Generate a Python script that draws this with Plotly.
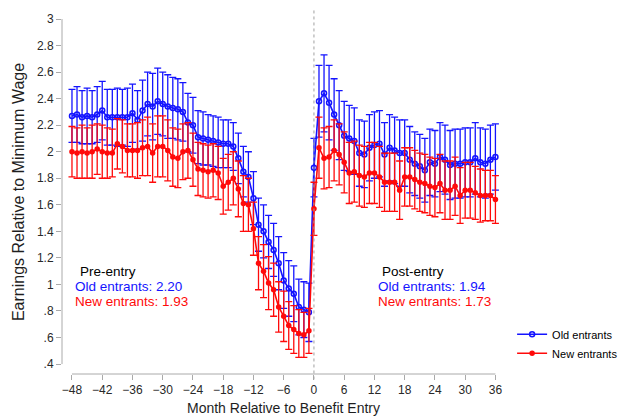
import plotly.graph_objects as go

months = list(range(-48, 37))

old_pre = [2.27, 2.28, 2.26, 2.27, 2.26, 2.28, 2.31, 2.26, 2.26, 2.26, 2.26, 2.26,
           2.29, 2.24, 2.31, 2.36, 2.34, 2.38, 2.36, 2.34, 2.33, 2.32, 2.30, 2.22,
           2.20, 2.11, 2.10, 2.09, 2.08, 2.07, 2.06, 2.06, 2.04, 1.95, 1.85, 1.81,
           1.65, 1.45, 1.40, 1.32, 1.26, 1.16, 1.03, 0.97, 0.93, 0.83, 0.81, 0.79]
old_post = [1.88, 2.38, 2.44, 2.37, 2.28, 2.20, 2.12, 2.10, 2.08, 1.99, 1.98, 2.03,
            2.05, 2.06, 1.98, 2.03, 2.01, 1.99, 1.99, 1.94, 1.91, 1.89, 1.86, 1.92,
            1.91, 1.96, 1.94, 1.90, 1.91, 1.91, 1.92, 1.92, 1.95, 1.92, 1.91, 1.94, 1.96]
new_pre = [2.00, 1.99, 2.00, 1.99, 2.00, 2.02, 2.00, 1.99, 1.99, 2.06, 2.04, 2.01,
           2.01, 2.01, 2.03, 2.04, 1.99, 2.04, 2.04, 2.01, 1.96, 1.95, 2.00, 2.01,
           1.94, 1.87, 1.86, 1.85, 1.86, 1.84, 1.74, 1.77, 1.80, 1.72, 1.61, 1.60,
           1.42, 1.16, 1.10, 1.01, 0.96, 0.83, 0.76, 0.69, 0.66, 0.63, 0.62, 0.65]
new_post = [1.57, 2.03, 1.95, 1.96, 2.01, 1.98, 1.92, 1.84, 1.85, 1.82, 1.81, 1.84,
            1.84, 1.81, 1.77, 1.77, 1.77, 1.71, 1.81, 1.81, 1.79, 1.77, 1.76, 1.74,
            1.73, 1.76, 1.71, 1.71, 1.74, 1.67, 1.71, 1.71, 1.69, 1.67, 1.67, 1.67, 1.64]

old_err = [0.20, 0.21, 0.20, 0.21, 0.20, 0.21, 0.22, 0.21, 0.21, 0.22, 0.21, 0.22,
           0.22, 0.22, 0.23, 0.24, 0.25, 0.25, 0.24, 0.24, 0.23, 0.23, 0.22, 0.22,
           0.21, 0.20, 0.20, 0.19, 0.19, 0.19, 0.18, 0.18, 0.18, 0.19, 0.19, 0.19,
           0.20, 0.20, 0.20, 0.20, 0.20, 0.20, 0.21, 0.21, 0.21, 0.21, 0.21, 0.22,
           0.22, 0.27, 0.29, 0.28, 0.27, 0.26, 0.26, 0.25, 0.25, 0.25, 0.25, 0.25,
           0.25, 0.25, 0.24, 0.25, 0.25, 0.25, 0.25, 0.25, 0.24, 0.24, 0.24, 0.25,
           0.25, 0.26, 0.26, 0.26, 0.26, 0.26, 0.26, 0.26, 0.27, 0.26, 0.26, 0.26, 0.25]
new_err = [0.19, 0.19, 0.20, 0.19, 0.20, 0.19, 0.20, 0.19, 0.18, 0.19, 0.20, 0.20,
           0.20, 0.21, 0.21, 0.22, 0.22, 0.23, 0.23, 0.23, 0.22, 0.22, 0.21, 0.21,
           0.20, 0.20, 0.20, 0.20, 0.20, 0.20, 0.21, 0.21, 0.20, 0.21, 0.21, 0.20,
           0.20, 0.20, 0.20, 0.20, 0.20, 0.19, 0.19, 0.18, 0.18, 0.18, 0.17, 0.17,
           0.20, 0.23, 0.23, 0.23, 0.23, 0.23, 0.23, 0.23, 0.23, 0.23, 0.23, 0.23,
           0.23, 0.23, 0.22, 0.22, 0.22, 0.22, 0.22, 0.22, 0.22, 0.22, 0.22, 0.22,
           0.22, 0.22, 0.22, 0.22, 0.22, 0.21, 0.21, 0.21, 0.20, 0.20, 0.19, 0.19, 0.18]

old_vals = old_pre + old_post
new_vals = new_pre + new_post

x_ticks = [-48, -42, -36, -30, -24, -18, -12, -6, 0, 6, 12, 18, 24, 30, 36]
y_ticks = [0.4, 0.6, 0.8, 1.0, 1.2, 1.4, 1.6, 1.8, 2.0, 2.2, 2.4, 2.6, 2.8, 3.0]
y_tick_text = [".4", ".6", ".8", "1", "1.2", "1.4", "1.6", "1.8", "2", "2.2", "2.4", "2.6", "2.8", "3"]

BLUE = "rgb(20,20,255)"
RED = "rgb(255,10,10)"
FONT = "Liberation Sans, Arial, sans-serif"

fig = go.Figure()
fig.add_trace(go.Scatter(
    x=months, y=old_vals, mode="lines+markers", name="Old entrants",
    line=dict(color=BLUE, width=1.6),
    marker=dict(symbol="circle-open", size=5, color=BLUE, line=dict(width=1.5, color=BLUE)),
    error_y=dict(type="data", array=old_err, visible=True, color=BLUE, thickness=1.3, width=3.5),
))
fig.add_trace(go.Scatter(
    x=months, y=new_vals, mode="lines+markers", name="New entrants",
    line=dict(color=RED, width=1.6),
    marker=dict(symbol="circle", size=5.5, color=RED),
    error_y=dict(type="data", array=new_err, visible=True, color=RED, thickness=1.3, width=3.5),
))

shapes = [
    dict(type="line", xref="x", yref="paper", x0=0, x1=0, y0=-0.015, y1=1.0,
         line=dict(color="rgb(160,160,160)", width=1, dash="dot")),
    dict(type="line", xref="paper", yref="y", x0=0, x1=0, y0=0.4, y1=3.0,
         line=dict(color="rgb(170,170,170)", width=1)),
    dict(type="line", xref="x", yref="paper", x0=-48, x1=36, y0=0, y1=0,
         line=dict(color="rgb(170,170,170)", width=1)),
]

ann = []
def add_text(x, y, text, color):
    ann.append(dict(x=x, y=y, xref="x", yref="y", text=text, showarrow=False,
                    xanchor="left", yanchor="middle",
                    font=dict(family=FONT, size=13.5, color=color)))

add_text(-46.8, 1.095, "Pre-entry", "black")
add_text(-47.7, 0.985, "Old entrants: 2.20", BLUE)
add_text(-47.7, 0.875, "New entrants: 1.93", RED)
add_text(13.2, 1.095, "Post-entry", "black")
add_text(12.4, 0.985, "Old entrants: 1.94", BLUE)
add_text(12.4, 0.875, "New entrants: 1.73", RED)

fig.update_layout(
    width=623, height=418,
    margin=dict(l=62, r=118, t=10, b=44, autoexpand=False),
    paper_bgcolor="white", plot_bgcolor="white",
    font=dict(family=FONT, size=12, color="rgb(40,40,40)"),
    shapes=shapes, annotations=ann,
    showlegend=True,
    legend=dict(xref="container", yref="container", x=0.822, y=0.235,
                xanchor="left", yanchor="top",
                bgcolor="rgba(0,0,0,0)", font=dict(family=FONT, size=11, color="black"),
                itemwidth=30, tracegroupgap=0),
    xaxis=dict(range=[-49.98, 37.9], tickvals=x_ticks, showgrid=False, zeroline=False,
               showline=False, ticks="outside", ticklen=5, tickcolor="rgb(170,170,170)",
               automargin=False,
               tickfont=dict(size=12, color="rgb(40,40,40)"),
               title=dict(text="Month Relative to Benefit Entry", font=dict(size=14, color="rgb(30,30,30)"),
                          standoff=6)),
    yaxis=dict(range=[0.325, 3.068], tickvals=y_ticks, ticktext=y_tick_text, showgrid=False,
               zeroline=False, showline=False, ticks="outside", ticklen=5, automargin=False,
               tickcolor="rgb(170,170,170)", tickfont=dict(size=12, color="rgb(40,40,40)"),
               title=dict(text="Earnings Relative to Minimum Wage", font=dict(size=16, color="rgb(30,30,30)"),
                          standoff=8)),
)

fig.write_html("out.html")
